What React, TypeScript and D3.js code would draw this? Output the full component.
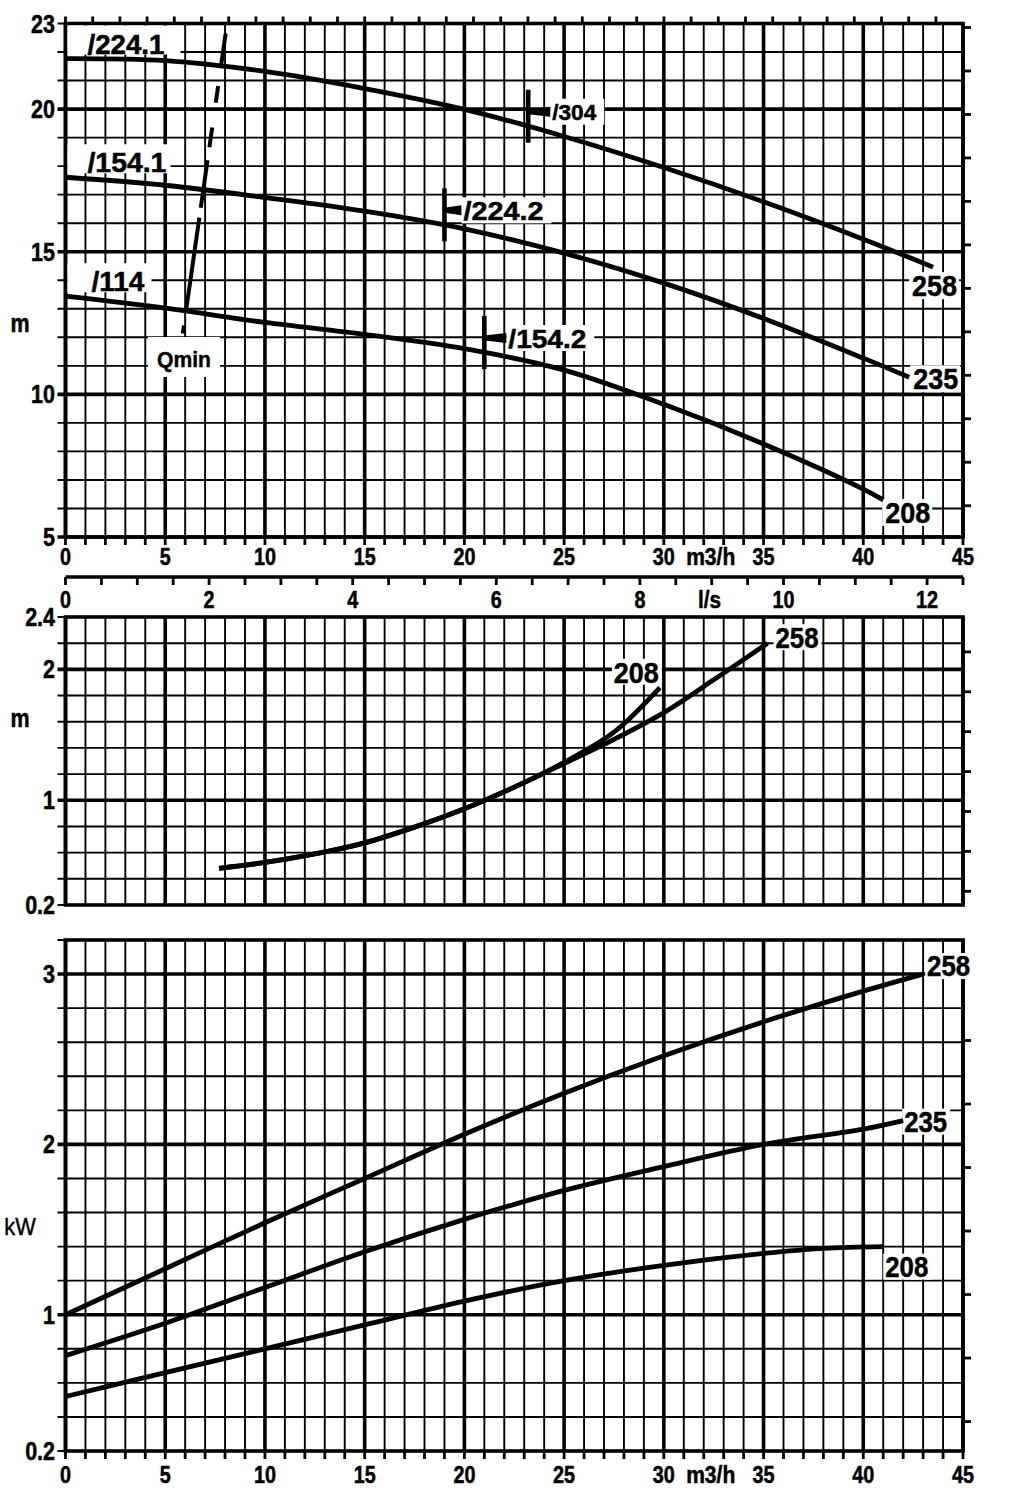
import React from 'react';
import * as d3 from 'd3';

const FONT = "'Liberation Sans', Arial, 'Helvetica', sans-serif";

// ---------- axis tick labels ----------
const flowTickLabels = [0, 5, 10, 15, 20, 25, 30, 35, 40, 45];
const litreTickLabels = [0, 2, 4, 6, 8, 10, 12];
const headTickLabels = [23, 20, 15, 10, 5];
const npshTickLabels = [2.4, 2, 1, 0.2];
const powerTickLabels = [3, 2, 1, 0.2];

// ---------- head curves (m3/h -> m) ----------
const head258Q = [0, 5, 10, 15, 20, 25, 30, 35, 40, 43.5];
const head258H = [21.77, 21.7, 21.32, 20.72, 19.99, 19.04, 17.95, 16.75, 15.44, 14.46];
const head235Q = [0, 5, 10, 15, 20, 25, 30, 35, 40, 42.3];
const head235H = [17.61, 17.33, 16.9, 16.42, 15.8, 14.95, 13.9, 12.66, 11.27, 10.6];
const head208Q = [0, 5, 10, 15, 20, 25, 30, 35, 40, 41];
const head208H = [13.44, 13.02, 12.52, 12.1, 11.6, 10.85, 9.65, 8.26, 6.68, 6.3];

// ---------- NPSH curves (m3/h -> m) ----------
const npsh258Q = [7.7, 10, 12.5, 15, 17.5, 20, 22.5, 25, 27.5, 30, 32.5, 35.2];
const npsh258N = [0.48, 0.525, 0.59, 0.675, 0.795, 0.935, 1.1, 1.28, 1.465, 1.67, 1.92, 2.2];
const npsh208Q = [7.7, 10, 12.5, 15, 17.5, 20, 22.5, 25, 27.5, 29.8];
const npsh208N = [0.48, 0.525, 0.59, 0.675, 0.795, 0.935, 1.1, 1.29, 1.52, 1.86];

// ---------- power curves (m3/h -> kW) ----------
const power258Q = [0, 5, 10, 15, 20, 25, 30, 35, 40, 43];
const power258P = [1.0, 1.27, 1.54, 1.8, 2.06, 2.3, 2.52, 2.72, 2.9, 3.0];
const power235Q = [0, 5, 10, 15, 20, 25, 30, 35, 40, 42];
const power235P = [0.76, 0.95, 1.16, 1.37, 1.56, 1.73, 1.87, 2.0, 2.09, 2.14];
const power208Q = [0, 5, 10, 15, 20, 25, 30, 35, 38, 41];
const power208P = [0.52, 0.66, 0.8, 0.94, 1.08, 1.2, 1.29, 1.36, 1.39, 1.4];

// ---------- impeller start labels / markers ----------
const startLabels = ['/224.1', '/154.1', '/114'];
const markerLabels = ['/304', '/224.2', '/154.2'];
const markerFlows = [23.2, 19.0, 21.0];
const endLabels = ['258', '235', '208'];

// ---------- Qmin line (m3/h, m) ----------
const qminQ = [8.03, 5.87];
const qminH = [22.65, 12.08];

const BLACK = '#000';
const SX = 0.86;

function T(props: any) {
  const { x, y, size = 23, anchor = 'start', len, weight = 'bold', children, sx = SX, thick = 0.5 } = props;
  return (
    <text
      transform={`translate(${x},${y}) scale(${sx},1)`}
      x={0}
      y={0}
      fontSize={size}
      textAnchor={anchor}
      fontFamily={FONT}
      fontWeight={weight}
      fill={BLACK}
      stroke={thick > 0 ? BLACK : 'none'}
      strokeWidth={thick}
      textLength={len ? len / sx : undefined}
      lengthAdjust={len ? 'spacingAndGlyphs' : undefined}
    >
      {children}
    </text>
  );
}

export default function App() {
  const x = d3.scaleLinear().domain([0, 45]).range([65.5, 963]);
  const yH = d3.scaleLinear().domain([5, 23]).range([537, 23.5]);
  const yN = d3.scaleLinear().domain([0.2, 2.4]).range([905, 617]);
  const yP = d3.scaleLinear().domain([0.2, 3.2]).range([1451, 940]);
  const ls = x.copy().domain([0, 45 / 3.6]);
  const gpm = x.copy().domain([0, 45 * 3.6662]);
  const ftH = yH.copy().domain([5 / 0.3048, 23 / 0.3048]);
  const ftN = yN.copy().domain([0.2 / 0.3048, 2.4 / 0.3048]);
  const hpP = yP.copy().domain([0.2 / 0.7457, 3.2 / 0.7457]);

  const X0 = x(0);
  const X1 = x(45);

  const isMajor = (v: number, step: number) => Math.abs(v / step - Math.round(v / step)) < 1e-6;

  const grid = (key: string, y: any, lines: number[], majorStep: number) => {
    const [yb, yt] = y.range();
    const els: any[] = [];
    d3.range(0, 46).forEach((q) => {
      els.push(
        <line key={`${key}v${q}`} x1={x(q)} x2={x(q)} y1={yt} y2={yb} stroke={BLACK}
          strokeWidth={q % 5 === 0 ? 3.6 : 1.9} />
      );
    });
    lines.forEach((v, i) => {
      els.push(
        <line key={`${key}h${i}`} x1={X0 - 8} x2={X1} y1={y(v)} y2={y(v)} stroke={BLACK}
          strokeWidth={isMajor(v, majorStep) ? 3.6 : 1.9} />
      );
    });
    els.push(
      <rect key={`${key}frame`} x={X0} y={yt} width={X1 - X0} height={yb - yt} fill="none"
        stroke={BLACK} strokeWidth={3.6} />
    );
    return els;
  };

  const line = (xs: number[], ys: number[], y: any) =>
    d3.line<number>()
      .x((_, i) => x(xs[i]))
      .y((d) => y(d))
      .curve(d3.curveCatmullRom.alpha(0.5))(ys) as string;

  const interp = (xs: number[], ys: number[], q: number) => d3.scaleLinear().domain(xs).range(ys)(q);

  const curveStyle = { fill: 'none', stroke: BLACK, strokeWidth: 4.8, strokeLinecap: 'butt' as const };

  const headCurves = [
    { q: head258Q, v: head258H },
    { q: head235Q, v: head235H },
    { q: head208Q, v: head208H },
  ];

  const startLabelLen = [77, 79, 53];
  const startLabelBoxW = [113, 103, 84];

  const markerSizes = [22, 26, 26];
  const markerLens = [44, 80, 78];
  const flagLens = [22, 17, 22];

  const headRight = [
    { dx: -21, dy: 29 },
    { dx: 4, dy: 12 },
    { dx: 2, dy: 23 },
  ];

  const qminDash = '35 18 17 25 20 13 48 10 95 14 8';

  return (
    <div style={{ position: 'absolute', left: 0, top: 0, width: 1024, height: 1491, background: '#fff' }}>
      <svg width={1024} height={1491} viewBox="0 0 1024 1491" style={{ display: 'block' }}>
        <rect x={0} y={0} width={1024} height={1491} fill="#fff" />

        {/* ================= PANEL 1: HEAD ================= */}
        {grid('h', yH, d3.range(5, 24, 1), 5)}
        {d3.range(0, 165, 5).map((g) => (
          <line key={`gt${g}`} x1={gpm(g)} x2={gpm(g)} y1={yH(23) - 7} y2={yH(23)} stroke={BLACK} strokeWidth={2.8} />
        ))}
        {d3.range(20, 76, 5).map((f) => (
          <line key={`ft${f}`} x1={X1} x2={X1 + 8} y1={ftH(f)} y2={ftH(f)} stroke={BLACK} strokeWidth={2.8} />
        ))}
        {d3.range(0, 46).map((q) => (
          <line key={`bt1${q}`} x1={x(q)} x2={x(q)} y1={yH(5)} y2={yH(5) + 8} stroke={BLACK} strokeWidth={2.8} />
        ))}
        {headTickLabels.map((v) => (
          <T key={`hl${v}`} x={55} y={yH(v) + 9} anchor="end" size={25}>{v}</T>
        ))}
        {flowTickLabels.map((v) => (
          <T key={`fl1${v}`} x={x(v)} y={565} anchor="middle" size={23}>{v}</T>
        ))}
        <T x={x(32.35)} y={565} anchor="middle" size={23} len={49}>m3/h</T>
        <T x={20} y={332} anchor="middle" size={25}>m</T>

        {/* label boxes */}
        {headCurves.map((c, i) => (
          <rect key={`slb${i}`} x={X0 + 2} y={yH(c.v[0]) - 33} width={startLabelBoxW[i]} height={29} fill="#fff" />
        ))}
        {headCurves.map((c, i) => {
          const q = markerFlows[i];
          const cx = x(q);
          const cy = yH(interp(c.q, c.v, q));
          const fy = cy - 15;
          return (
            <rect key={`mlb${i}`} x={cx + flagLens[i]} y={fy - 13} width={markerLens[i] + 10} height={26} fill="#fff" />
          );
        })}
        {headCurves.map((c, i) => {
          const n = c.q.length - 1;
          const ex = x(c.q[n]) + headRight[i].dx;
          const ey = yH(c.v[n]) + headRight[i].dy;
          return <rect key={`elb${i}`} x={ex - 3} y={ey - 24} width={50} height={27} fill="#fff" />;
        })}
        <rect x={148} y={337} width={72} height={40} fill="#fff" />

        {headCurves.map((c, i) => (
          <path key={`hc${i}`} d={line(c.q, c.v, yH)} {...curveStyle} />
        ))}

        <line x1={x(qminQ[0])} y1={yH(qminH[0])} x2={x(qminQ[1])} y2={yH(qminH[1])} stroke={BLACK}
          strokeWidth={4} strokeDasharray={qminDash} />
        <T x={184} y={367} anchor="middle" size={22} len={54} thick={0.4}>Qmin</T>

        {headCurves.map((c, i) => (
          <T key={`sl${i}`} x={x(1.1) + (i === 2 ? 4 : 0)} y={yH(c.v[0]) - 5} size={27} len={startLabelLen[i]}>{startLabels[i]}</T>
        ))}

        {headCurves.map((c, i) => {
          const q = markerFlows[i];
          const cx = x(q);
          const cy = yH(interp(c.q, c.v, q));
          const fy = cy - 15;
          const fl = flagLens[i];
          return (
            <g key={`mk${i}`}>
              <rect x={cx - 2.3} y={cy - 37} width={4.6} height={53} fill={BLACK} />
              <polygon points={`${cx},${fy - 2.5} ${cx + fl},${fy - 5} ${cx + fl},${fy + 5} ${cx},${fy + 2.5}`} fill={BLACK} />
              <T x={cx + fl + 2} y={fy + (i === 0 ? 8 : 10)} size={markerSizes[i]} len={markerLens[i]}>{markerLabels[i]}</T>
            </g>
          );
        })}

        {headCurves.map((c, i) => {
          const n = c.q.length - 1;
          const ex = x(c.q[n]) + headRight[i].dx;
          const ey = yH(c.v[n]) + headRight[i].dy;
          return <T key={`el${i}`} x={ex} y={ey} size={30} len={45}>{endLabels[i]}</T>;
        })}

        {/* ================= l/s axis ================= */}
        <line x1={X0} x2={X1} y1={577} y2={577} stroke={BLACK} strokeWidth={3.6} />
        {d3.range(0, 12.51, 0.5).map((v) => (
          <line key={`lst${v}`} x1={ls(v)} x2={ls(v)} y1={577} y2={585} stroke={BLACK} strokeWidth={2.8} />
        ))}
        {litreTickLabels.map((v) => (
          <T key={`lsl${v}`} x={ls(v)} y={608} anchor="middle" size={23}>{v}</T>
        ))}
        <T x={ls(8.97)} y={608} anchor="middle" size={23} len={23}>l/s</T>

        {/* ================= PANEL 2: NPSH ================= */}
        {grid('n', yN, d3.range(1, 13).map((i) => i * 0.2), 1)}
        {d3.range(1, 8).map((f) => (
          <line key={`fn${f}`} x1={X1} x2={X1 + 8} y1={ftN(f)} y2={ftN(f)} stroke={BLACK} strokeWidth={2.8} />
        ))}
        {npshTickLabels.map((v) => (
          <T key={`nl${v}`} x={55} y={yN(v) + 9} anchor="end" size={25}>{v}</T>
        ))}
        <T x={20} y={727} anchor="middle" size={25}>m</T>
        <rect x={x(npsh208Q[npsh208Q.length - 1]) - 48} y={yN(npsh208N[npsh208N.length - 1]) - 29} width={50} height={26} fill="#fff" />
        <rect x={x(npsh258Q[npsh258Q.length - 1]) + 6} y={yN(npsh258N[npsh258N.length - 1]) - 19} width={48} height={26} fill="#fff" />
        <path d={line(npsh208Q, npsh208N, yN)} {...curveStyle} />
        <path d={line(npsh258Q, npsh258N, yN)} {...curveStyle} />
        <T x={x(npsh208Q[npsh208Q.length - 1]) - 1} y={yN(npsh208N[npsh208N.length - 1]) - 5} anchor="end" size={29} len={45}>{endLabels[2]}</T>
        <T x={x(npsh258Q[npsh258Q.length - 1]) + 8} y={yN(npsh258N[npsh258N.length - 1]) + 5} size={29} len={43}>{endLabels[0]}</T>

        {/* ================= PANEL 3: POWER ================= */}
        {grid('p', yP, d3.range(1, 17).map((i) => i * 0.2), 1)}
        {d3.range(0.5, 4.01, 0.5).map((h) => (
          <line key={`hp${h}`} x1={X1} x2={X1 + 8} y1={hpP(h)} y2={hpP(h)} stroke={BLACK} strokeWidth={2.8} />
        ))}
        {d3.range(0, 46).map((q) => (
          <line key={`bt3${q}`} x1={x(q)} x2={x(q)} y1={yP(0.2)} y2={yP(0.2) + 8} stroke={BLACK} strokeWidth={2.8} />
        ))}
        {powerTickLabels.map((v) => (
          <T key={`pl${v}`} x={55} y={yP(v) + 9} anchor="end" size={25}>{v}</T>
        ))}
        {flowTickLabels.map((v) => (
          <T key={`fl3${v}`} x={x(v)} y={1483} anchor="middle" size={23}>{v}</T>
        ))}
        <T x={x(32.35)} y={1483} anchor="middle" size={23} len={49}>m3/h</T>
        <T x={20} y={1235} anchor="middle" size={23} weight="normal" thick={0.4} sx={0.95}>kW</T>

        {[
          { q: power258Q, v: power258P, dx: 4, dy: 2, l: 0 },
          { q: power235Q, v: power235P, dx: 1, dy: 11, l: 1 },
          { q: power208Q, v: power208P, dx: 2, dy: 30, l: 2 },
        ].map((c, i) => {
          const n = c.q.length - 1;
          const ex = x(c.q[n]) + c.dx;
          const ey = yP(c.v[n]) + c.dy;
          return (
            <g key={`pc${i}`}>
              <rect x={ex - 2} y={ey - 23} width={48} height={26} fill="#fff" />
              <path d={line(c.q, c.v, yP)} {...curveStyle} />
              <T x={ex} y={ey} size={29} len={43}>{endLabels[c.l]}</T>
            </g>
          );
        })}
      </svg>
    </div>
  );
}
